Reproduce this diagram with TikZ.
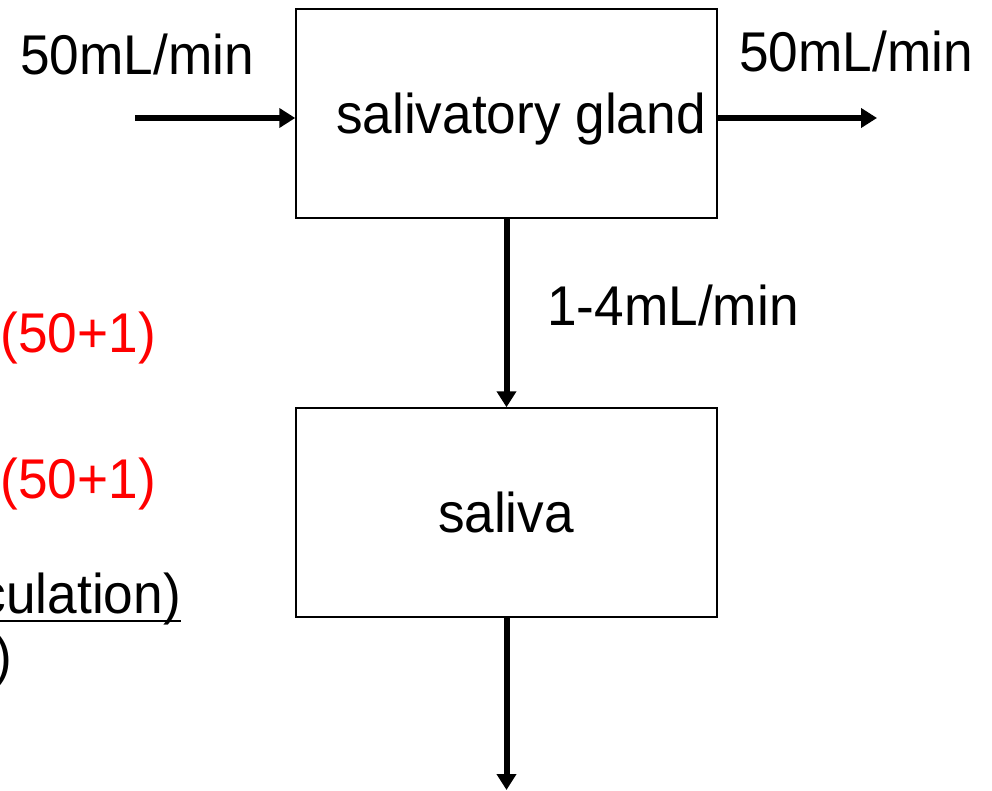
\documentclass[tikz,border=0pt]{standalone}
\usepackage{fontspec}
\setmainfont[FakeStretch=0.95]{Liberation Sans}
\usetikzlibrary{arrows.meta}

\tikzset{
    box/.style={draw, line width=1.5pt, minimum width=421pt, minimum height=209pt, inner sep=0pt},
    flow/.style={line width=6pt, -{Triangle[length=16pt,width=19pt]}},
    lbl/.style={inner sep=0pt, font=\fontsize{56}{62}\selectfont},
}

\begin{document}
\begin{tikzpicture}[x=1pt,y=-1pt]
        \useasboundingbox (0,0) rectangle (992,791);

        \node[box] (gland) at (506.5,113.5) {};
        \node[box] (saliva) at (506.5,512.5) {};
        \node[lbl, anchor=base] (glandname) at (521,134) {salivatory gland};
        \node[lbl, anchor=base] (salivaname) at (506,532) {saliva};

        \coordinate (in) at (135,118);
        \coordinate (out) at (877,118);
        \coordinate (drain) at (506.5,790);

        \draw[flow] (in) -- (gland.west |- in);
        \draw[flow] (gland.east |- out) -- (out);
        \draw[flow] (gland.south) -- (saliva.north);
        \draw[flow] (saliva.south) -- (drain);

        \node[lbl, anchor=base] (inflow) at (137,75) {50mL/min};
        \node[lbl, anchor=base] (outflow) at (856,72) {50mL/min};
        \node[lbl, anchor=base] (secretion) at (673,325) {1-4mL/min};

        \node[lbl, anchor=base east, text=red] (ratioa) at (156,352) {(50+1)};
        \node[lbl, anchor=base east, text=red] (ratiob) at (156,498) {(50+1)};
        \node[lbl, anchor=base east] (circ) at (181,613) {culation)};
        \draw[line width=2.5pt] (0,621) -- (circ.base east |- 0,621);
        \node[lbl, anchor=base east] (close) at (12,675) {)};

\end{tikzpicture}
\end{document}
